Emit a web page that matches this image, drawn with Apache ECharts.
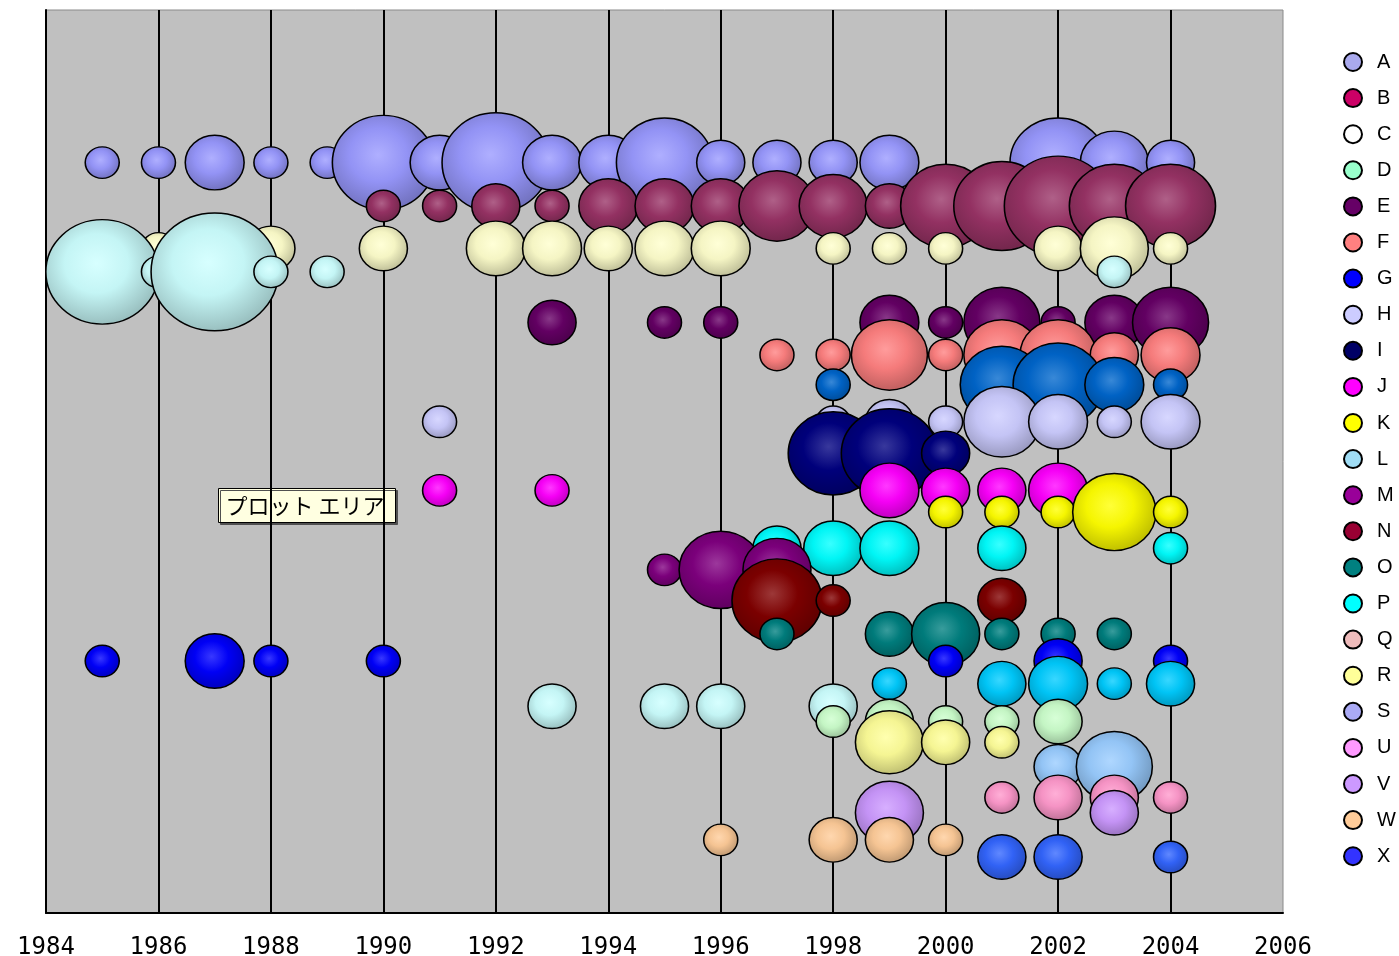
<!DOCTYPE html>
<html><head><meta charset="utf-8">
<script src="https://cdn.jsdelivr.net/npm/echarts@6/dist/echarts.min.js"></script>
<style>html,body{margin:0;padding:0;background:#fff}#c{width:1399px;height:956px}</style>
</head><body><div id="c"></div>
<script>
// ---- data ----
const rowColors = ['#9999FF','#993366','#FFFFCC','#CCFFFF','#660066','#FF8080','#0066CC','#CCCCFF','#000080','#FF00FF','#FFFF00','#00FFFF','#800080','#800000','#008080','#0000FF','#00CCFF','#CCFFFF','#CCFFCC','#FFFF99','#99CCFF','#FF99CC','#CC99FF','#FFCC99','#3366FF'];
const rowLevels = [83.1,78.3,73.6,71.0,65.4,61.8,58.5,54.4,50.9,46.8,44.4,40.4,38.0,34.6,30.9,27.9,25.4,22.9,21.2,18.9,16.2,12.8,11.1,8.1,6.2];
const row01 = [[1985,1],[1986,1],[1987,3],[1988,1],[1989,1],[1990,9],[1991,3],[1992,10],[1993,3],[1994,3],[1995,8],[1996,2],[1997,2],[1998,2],[1999,3],[2002,8],[2003,4],[2004,2]];
const row02 = [[1990,1],[1991,1],[1992,2],[1993,1],[1994,3],[1995,3],[1996,3],[1997,5],[1998,4],[1999,2],[2000,7],[2001,8],[2002,10],[2003,7],[2004,7]];
const row03 = [[1986,1],[1988,2],[1990,2],[1992,3],[1993,3],[1994,2],[1995,3],[1996,3],[1998,1],[1999,1],[2000,1],[2002,2],[2003,4],[2004,1]];
const row04 = [[1985,11],[1986,1],[1987,14],[1988,1],[1989,1],[2003,1]];
const row05 = [[1993,2],[1995,1],[1996,1],[1999,3],[2000,1],[2001,5],[2002,1],[2003,3],[2004,5]];
const row06 = [[1997,1],[1998,1],[1999,5],[2000,1],[2001,5],[2002,5],[2003,2],[2004,3]];
const row07 = [[1998,1],[2001,6],[2002,7],[2003,3],[2004,1]];
const row08 = [[1991,1],[1998,1],[1999,2],[2000,1],[2001,5],[2002,3],[2003,1],[2004,3]];
const row09 = [[1998,7],[1999,8],[2000,2]];
const row10 = [[1991,1],[1993,1],[1999,3],[2000,2],[2001,2],[2002,3]];
const row11 = [[2000,1],[2001,1],[2002,1],[2003,6],[2004,1]];
const row12 = [[1997,2],[1998,3],[1999,3],[2001,2],[2004,1]];
const row13 = [[1995,1],[1996,6],[1997,4]];
const row14 = [[1997,7],[1998,1],[2001,2]];
const row15 = [[1997,1],[1999,2],[2000,4],[2001,1],[2002,1],[2003,1]];
const row16 = [[1985,1],[1987,3],[1988,1],[1990,1],[2000,1],[2002,2],[2004,1]];
const row17 = [[1999,1],[2001,2],[2002,3],[2003,1],[2004,2]];
const row18 = [[1993,2],[1995,2],[1996,2],[1998,2]];
const row19 = [[1998,1],[1999,2],[2000,1],[2001,1],[2002,2]];
const row20 = [[1999,4],[2000,2],[2001,1]];
const row21 = [[2002,2],[2003,5]];
const row22 = [[2001,1],[2002,2],[2003,2],[2004,1]];
const row23 = [[1999,4],[2003,2]];
const row24 = [[1996,1],[1998,2],[1999,2],[2000,1]];
const row25 = [[2001,2],[2002,2],[2004,1]];
const rows = [row01,row02,row03,row04,row05,row06,row07,row08,row09,row10,row11,row12,row13,row14,row15,row16,row17,row18,row19,row20,row21,row22,row23,row24,row25];
const legendNames = ['A','B','C','D','E','F','G','H','I','J','K','L','M','N','O','P','Q','R','S','U','V','W','X'];
const legendColors = ['#AAAAEE','#CC0066','#FFFFFF','#99FFCC','#660066','#FF8080','#0000FF','#CCCCFF','#000066','#FF00FF','#FFFF00','#A0DDF5','#990099','#990033','#008080','#00FFFF','#EEBBBB','#FFFF99','#AAAAF5','#FF99FF','#CC99FF','#FFCC99','#3333FF'];
const calloutText = 'プロット エリア';

// ---- helpers ----
function mix(hex, t) {
  const n = parseInt(hex.slice(1), 16);
  let r = n >> 16, g = (n >> 8) & 255, b = n & 255;
  if (t > 0) { r += (255 - r) * t; g += (255 - g) * t; b += (255 - b) * t; }
  else { r *= (1 + t); g *= (1 + t); b *= (1 + t); }
  return 'rgb(' + Math.round(r) + ',' + Math.round(g) + ',' + Math.round(b) + ')';
}
function shade(c) {
  return { type: 'radial', x: 0.45, y: 0.42, r: 0.62,
    colorStops: [{offset: 0, color: mix(c, 0.22)}, {offset: 0.45, color: mix(c, -0.04)}, {offset: 1, color: mix(c, -0.28)}] };
}

const series = rows.map((r, i) => ({
  name: 'row' + (i + 1),
  type: 'scatter',
  data: r.map(p => [p[0], rowLevels[i], p[1]]),
  symbol: 'circle',
  symbolSize: v => [34 * Math.sqrt(v[2]), 31.5 * Math.sqrt(v[2])],
  itemStyle: { color: shade(rowColors[i]), borderColor: '#000', borderWidth: 1.5, opacity: 1 },
  emphasis: { disabled: true },
  z: 2
}));
legendNames.forEach((n, i) => series.push({
  name: n, type: 'scatter', data: [],
  itemStyle: { color: legendColors[i], borderColor: '#000', borderWidth: 2, opacity: 1 }
}));

const chart = echarts.init(document.getElementById('c'));
chart.setOption({
  animation: false,
  backgroundColor: '#fff',
  grid: { left: 46, right: 116, top: 10, bottom: 43, outerBoundsMode: 'none', containLabel: false, show: true, backgroundColor: '#C0C0C0', borderColor: '#8a8a8a', borderWidth: 1 },
  xAxis: {
    type: 'value', min: 1984, max: 2006, interval: 2,
    axisLine: { show: true, lineStyle: { color: '#000', width: 2 } },
    axisTick: { show: false },
    axisLabel: { color: '#000', fontFamily: 'DejaVu Sans Mono', fontSize: 24, margin: 23, formatter: v => String(v) },
    splitLine: { show: true, showMinLine: false, showMaxLine: false, lineStyle: { color: '#000', width: 2 } }
  },
  yAxis: {
    type: 'value', min: 0, max: 100,
    axisLine: { show: true, lineStyle: { color: '#000', width: 2 } },
    axisTick: { show: false }, axisLabel: { show: false }, splitLine: { show: false }
  },
  legend: {
    data: legendNames, orient: 'vertical', left: 1338, top: 47,
    itemWidth: 20, itemHeight: 18, itemGap: 16.1, icon: 'circle',
    itemStyle: { borderColor: '#000', borderWidth: 2, opacity: 1 },
    textStyle: { color: '#000', fontFamily: 'Liberation Sans', fontSize: 20, lineHeight: 20, padding: [0, 0, 0, 9] },
    selectedMode: false
  },
  graphic: [{
    type: 'group', left: 218, top: 488, z: 100,
    children: [
      { type: 'rect', shape: { x: 0, y: 0, width: 177, height: 34 },
        style: { fill: '#FFFFE1', stroke: '#000', lineWidth: 1, shadowColor: '#505050', shadowOffsetX: 2, shadowOffsetY: 2, shadowBlur: 0 } },
      { type: 'text', x: 7, y: 17, style: { text: calloutText, fill: '#000', font: '22px "Noto Sans CJK JP"', verticalAlign: 'middle' } }
    ]
  }],
  series: series
});
</script></body></html>
